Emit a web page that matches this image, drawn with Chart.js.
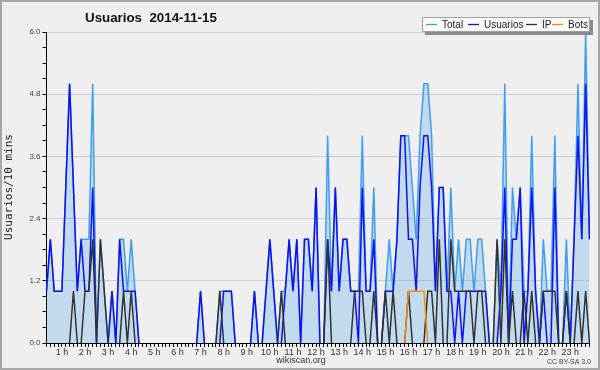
<!DOCTYPE html>
<html><head><meta charset="utf-8">
<script src="https://cdn.jsdelivr.net/npm/chart.js@4/dist/chart.umd.min.js"></script>
<style>html,body{margin:0;padding:0;background:#efefef}#wrap{width:600px;height:370px;position:relative}canvas{display:block}</style>
</head><body><div id="wrap"><canvas id="c" width="600" height="370"></canvas></div>
<script>
// ---- data (10-minute intervals, 00:20 .. 23:50) ----
const times = ["00:20","00:30","00:40","00:50",
"01:00","01:10","01:20","01:30","01:40","01:50","02:00","02:10","02:20","02:30","02:40","02:50",
"03:00","03:10","03:20","03:30","03:40","03:50","04:00","04:10","04:20","04:30","04:40","04:50",
"05:00","05:10","05:20","05:30","05:40","05:50","06:00","06:10","06:20","06:30","06:40","06:50",
"07:00","07:10","07:20","07:30","07:40","07:50","08:00","08:10","08:20","08:30","08:40","08:50",
"09:00","09:10","09:20","09:30","09:40","09:50","10:00","10:10","10:20","10:30","10:40","10:50",
"11:00","11:10","11:20","11:30","11:40","11:50","12:00","12:10","12:20","12:30","12:40","12:50",
"13:00","13:10","13:20","13:30","13:40","13:50","14:00","14:10","14:20","14:30","14:40","14:50",
"15:00","15:10","15:20","15:30","15:40","15:50","16:00","16:10","16:20","16:30","16:40","16:50",
"17:00","17:10","17:20","17:30","17:40","17:50","18:00","18:10","18:20","18:30","18:40","18:50",
"19:00","19:10","19:20","19:30","19:40","19:50","20:00","20:10","20:20","20:30","20:40","20:50",
"21:00","21:10","21:20","21:30","21:40","21:50","22:00","22:10","22:20","22:30","22:40","22:50",
"23:00","23:10","23:20","23:30","23:40","23:50"];
const hourTicks = ["1 h","2 h","3 h","4 h","5 h","6 h","7 h","8 h","9 h","10 h","11 h","12 h",
"13 h","14 h","15 h","16 h","17 h","18 h","19 h","20 h","21 h","22 h","23 h"];

const total = [1,2,1,1,1,3,5,3,1,2, 2,2,5,0,2,1,0,1,0,2, 2,1,2,1,0,0,0,0,0,0,
0,0,0,0,0,0,0,0,0,0, 1,0,0,0,0,1,1,1,1,0, 0,0,0,0,1,0,0,1,2,1,
0,1,1,2,1,2,0,2,2,1, 3,0,0,4,1,3,1,2,2,1, 1,1,4,1,1,3,0,0,1,2,
1,2,4,4,4,3,2,4,5,5, 4,1,3,3,1,3,1,2,1,2, 2,1,2,2,1,0,0,2,1,5,
0,3,2,3,1,1,4,1,0,2, 1,1,4,0,0,2,0,2,5,2, 6,2];
const usuarios = [1,2,1,1,1,3,5,3,1,2, 1,1,3,0,0,0,0,1,0,2, 1,1,1,1,0,0,0,0,0,0,
0,0,0,0,0,0,0,0,0,0, 1,0,0,0,0,0,1,1,1,0, 0,0,0,0,1,0,0,1,2,1,
0,0,1,2,1,2,0,2,2,1, 3,0,0,2,1,3,1,2,2,1, 1,0,3,1,1,2,0,0,1,1,
1,2,4,4,2,2,1,3,4,4, 3,1,3,3,1,1,0,1,0,1, 1,1,1,1,1,0,0,0,1,3,
0,2,2,3,0,1,3,1,0,1, 0,0,3,0,0,1,0,2,4,2, 5,2];
const ip = [0,0,0,0,0,0,0,1,0,0, 1,1,2,0,2,1,0,0,0,0, 1,0,1,0,0,0,0,0,0,0,
0,0,0,0,0,0,0,0,0,0, 0,0,0,0,0,1,0,0,0,0, 0,0,0,0,0,0,0,0,0,0,
0,1,0,0,0,0,0,0,0,0, 0,0,0,2,0,0,0,0,0,0, 1,1,1,0,0,1,0,0,1,0,
1,0,0,0,1,0,0,0,0,1, 1,0,2,0,0,2,1,1,1,1, 1,0,1,1,0,0,0,2,0,2,
0,1,0,0,1,0,1,0,0,1, 1,1,1,0,0,1,0,0,1,0, 1,0];
const bots = [0,0,0,0,0,0,0,0,0,0, 0,0,0,0,0,0,0,0,0,0, 0,0,0,0,0,0,0,0,0,0,
0,0,0,0,0,0,0,0,0,0, 0,0,0,0,0,0,0,0,0,0, 0,0,0,0,0,0,0,0,0,0,
0,0,0,0,0,0,0,0,0,0, 0,0,0,0,0,0,0,0,0,0, 0,0,0,0,0,0,0,0,0,0,
0,0,0,0,1,1,1,1,1,0, 0,0,0,0,0,0,0,0,0,0, 0,0,0,0,0,0,0,0,0,0,
0,0,0,0,0,0,0,0,0,0, 0,0,0,0,0,0,0,0,0,0, 0,0];

const yTickValues = [0,0.3,0.6,0.9,1.2,1.5,1.8,2.1,2.4,2.7,3.0,3.3,3.6,3.9,4.2,4.5,4.8,5.1,5.4,5.7,6.0];
const yMajor = [0,1.2,2.4,3.6,4.8,6.0];
const yTickLabels = ["0.0","1.2","2.4","3.6","4.8","6.0"];

const seriesNames = ["Total","Usuarios","IP","Bots"];
const seriesColors = ["#3f9ef0","#1010f0","#333333","#ff8c00"];

function majorIndex(v){ return yMajor.findIndex(m => Math.abs(m - v) < 1e-6); }

const decor = {
  id:'decor',
  beforeDraw(chart){
    const c = chart.ctx;
    c.save();
    c.fillStyle = '#efefef';
    c.fillRect(0,0,chart.width,chart.height);
    c.restore();
  },
  afterDraw(chart){
    const c = chart.ctx;
    c.save();
    // baseline axis on top
    const a = chart.chartArea;
    c.strokeStyle = '#000'; c.lineWidth = 1;
    c.beginPath(); c.moveTo(a.left, Math.round(a.bottom) + 0.5); c.lineTo(a.right, Math.round(a.bottom) + 0.5); c.stroke();
    // frame
    c.strokeStyle = '#a8a8a8'; c.lineWidth = 2;
    c.strokeRect(1,1,598,368);
    // title
    c.fillStyle = '#111';
    c.textBaseline = 'alphabetic';
    c.textAlign = 'left';
    let fs = 14;
    c.font = 'bold ' + fs + 'px "Liberation Sans", Arial, sans-serif';
    const tt = 'Usuarios  2014-11-15';
    fs = fs * 132 / c.measureText(tt).width;
    c.font = 'bold ' + fs.toFixed(2) + 'px "Liberation Sans", Arial, sans-serif';
    c.fillText(tt, 85, 21.7);
    // legend box with shadow
    c.fillStyle = '#8a8a8a';
    c.fillRect(425, 20, 168, 15);
    c.fillStyle = '#fafafa';
    c.fillRect(422, 17, 168, 15);
    c.strokeStyle = '#a0a0a0'; c.lineWidth = 1;
    c.strokeRect(422.5, 17.5, 167, 14);
    const lineX = [426, 468, 526, 552];
    const textX = [442, 484, 542, 568];
    c.font = '10px "Liberation Sans", Arial, sans-serif';
    c.textBaseline = 'middle';
    chart.data.datasets.forEach((ds, i) => {
      c.strokeStyle = ds.borderColor; c.lineWidth = 1.3;
      c.beginPath(); c.moveTo(lineX[i], 24.5); c.lineTo(lineX[i] + 11, 24.5); c.stroke();
      c.fillStyle = '#222';
      c.fillText(ds.label, textX[i], 25);
    });
    // y axis title
    c.save();
    c.translate(9.5, 187);
    c.rotate(-Math.PI/2);
    c.textAlign = 'center'; c.textBaseline = 'middle';
    c.font = '11px "DejaVu Sans Mono", monospace';
    c.fillStyle = '#222';
    c.fillText('Usuarios/10 mins', 0, 0);
    c.restore();
    // bottom texts
    c.textAlign = 'center'; c.textBaseline = 'middle';
    c.font = '9px "Liberation Sans", Arial, sans-serif';
    c.fillStyle = '#333';
    c.fillText('wikiscan.org', 301, 361);
    c.textAlign = 'right';
    c.font = '7px "Liberation Sans", Arial, sans-serif';
    c.fillStyle = '#444';
    c.fillText('CC BY-SA 3.0', 591, 362);
    c.restore();
  }
};

// hide flat segments lying on the zero baseline
const hideZero = {borderColor: ctx => (ctx.p0.parsed.y === 0 && ctx.p1.parsed.y === 0) ? 'rgba(0,0,0,0)' : undefined};
const common = {pointRadius:0, pointHoverRadius:0, tension:0, borderWidth:1.5, fill:false, segment:hideZero};
new Chart(document.getElementById('c'), {
  type:'line',
  data:{
    labels: times,
    datasets:[
      Object.assign({}, common, {label:seriesNames[0], data:total, borderColor:seriesColors[0],
        backgroundColor:'rgba(110,180,235,0.36)', fill:'origin', order:4}),
      Object.assign({}, common, {label:seriesNames[1], data:usuarios, borderColor:seriesColors[1], order:3}),
      Object.assign({}, common, {label:seriesNames[2], data:ip, borderColor:seriesColors[2], order:2}),
      Object.assign({}, common, {label:seriesNames[3], data:bots, borderColor:seriesColors[3], order:1})
    ]
  },
  options:{
    responsive:false, animation:false, devicePixelRatio:1,
    layout:{padding:{left:0, right:10.5, top:32, bottom:0}},
    plugins:{legend:{display:false}, title:{display:false}, tooltip:{enabled:false}},
    scales:{
      x:{
        type:'category', offset:false,
        border:{display:true, color:'#000', width:1},
        grid:{drawOnChartArea:false, drawTicks:true, tickLength:4, tickColor:'#000', lineWidth:1},
        ticks:{autoSkip:false, maxRotation:0, minRotation:0, padding:0, color:'#333',
          font:{size:9, family:'"Liberation Sans", Arial, sans-serif'},
          callback:(v, i) => { const t = times[i]; return t.endsWith(':00') ? hourTicks[parseInt(t, 10) - 1] : ''; }},
        afterFit:s => { s.height = 27; }
      },
      y:{
        min:0, max:6,
        border:{display:true, color:'#000', width:1},
        grid:{
          color:ctx => (majorIndex(ctx.tick.value) >= 0 ? '#cdcdcd' : 'rgba(0,0,0,0)'),
          tickColor:'#000', drawTicks:true, tickLength:4, lineWidth:1
        },
        ticks:{padding:2, color:'#444', font:{size:8, family:'"Liberation Sans", Arial, sans-serif'},
          callback:v => { const k = majorIndex(v); return k >= 0 ? yTickLabels[k] : ''; }},
        afterBuildTicks:s => { s.ticks = yTickValues.map(v => ({value:v})); },
        afterFit:s => { s.width = 46.5; }
      }
    }
  },
  plugins:[decor]
});
</script></body></html>
